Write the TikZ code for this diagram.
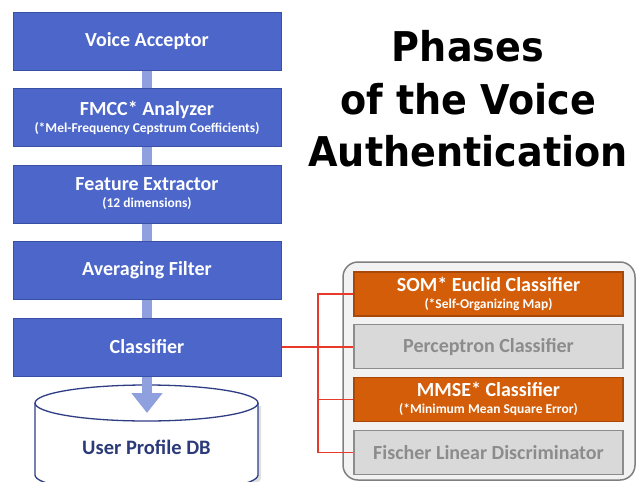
\documentclass[tikz,border=0pt]{standalone}
\usepackage{fontspec}
\setmainfont{Carlito}
\newfontfamily\titlefont[FakeStretch=0.93]{DejaVu Sans}
\usetikzlibrary{positioning,arrows.meta}

\definecolor{phasefill}{HTML}{4D66C9}
\definecolor{phaseedge}{HTML}{3A4FA6}
\definecolor{linkblue}{HTML}{8FA0DE}
\definecolor{somfill}{HTML}{D35D08}
\definecolor{somedge}{HTML}{A8490A}
\definecolor{offfill}{HTML}{D9D9D9}
\definecolor{offedge}{HTML}{8C8C8C}
\definecolor{offtext}{HTML}{8C8C8C}
\definecolor{panelfill}{HTML}{F2F2F2}
\definecolor{paneledge}{HTML}{7F7F7F}
\definecolor{tapred}{HTML}{E83A2A}
\definecolor{dbedge}{HTML}{2F3D85}
\definecolor{dbtext}{HTML}{2B3A78}

\newcommand\subline[1]{{\fontsize{13.5}{17}\selectfont #1}}

\begin{document}
\begin{tikzpicture}[x=1pt,y=-1pt,node distance=17.5pt,
  phase/.style={rectangle,draw=phaseedge,fill=phasefill,line width=1pt,
    minimum width=268pt,minimum height=58pt,inner sep=0pt,text=white,
    align=center,font=\bfseries\fontsize{20}{17}\selectfont},
  method/.style={rectangle,line width=1.2pt,minimum width=269pt,
    minimum height=44pt,inner sep=0pt,align=center,
    font=\bfseries\fontsize{20}{17}\selectfont},
  methodon/.style={method,fill=somfill,draw=somedge,text=white},
  methodoff/.style={method,fill=offfill,draw=offedge,text=offtext},
  link/.style={draw=linkblue,line width=10pt},
  feed/.style={draw=linkblue,fill=linkblue,line width=10pt,
    -{Triangle[length=20pt,width=30pt]}},
  tap/.style={draw=tapred,line width=1.2pt},
  dbwall/.style={draw=dbedge,fill=white,line width=1.3pt},
  title/.style={inner sep=0pt,align=center,
    font=\titlefont\bfseries\fontsize{41}{52.5}\selectfont}]
\useasboundingbox (0,0) rectangle (640,482);

% processing chain
\node[phase] at (147,41) (va) {Voice Acceptor};
\node[phase,below=of va] (fmcc) {FMCC* Analyzer\\\subline{(*Mel-Frequency Cepstrum Coefficients)}};
\node[phase,below=of fmcc] (fe) {Feature Extractor\\\subline{(12 dimensions)}};
\node[phase,below=of fe] (af) {Averaging Filter};
\node[phase,below=of af] (cls) {Classifier};

\draw[link] (va) -- (fmcc);
\draw[link] (fmcc) -- (fe);
\draw[link] (fe) -- (af);
\draw[link] (af) -- (cls);

% user profile database
\fill[black!25,opacity=.5] (38,406) -- (38,478) arc[start angle=180,end angle=0,x radius=111.5,y radius=18] -- (261,406) -- cycle;
\filldraw[dbwall] (35,403) -- (35,475) arc[start angle=180,end angle=0,x radius=111.5,y radius=18] -- (258,403);
\filldraw[dbwall] (146.5,403) ellipse [x radius=111.5,y radius=18];
\node[text=dbtext,font=\bfseries\fontsize{20.5}{17}\selectfont] at (146.5,447) (db) {User Profile DB};
\coordinate (dbtop) at (147,413);
\draw[feed] (cls.south) -- (dbtop);

% title
\node[title] at (468,99) (head) {Phases\\of the Voice\\Authentication};

% classifier methods
\draw[fill=panelfill,draw=paneledge,line width=1.5pt,rounded corners=15pt] (343,262) rectangle (635,480);
\node[methodon] at (488.5,294) (som) {SOM* Euclid Classifier\\\subline{(*Self-Organizing Map)}};
\node[methodoff,below=7.5pt of som] (per) {Perceptron Classifier};
\node[methodon,below=7.5pt of per] (mmse) {MMSE* Classifier\\\subline{(*Minimum Mean Square Error)}};
\node[methodoff,below=7.5pt of mmse] (fld) {Fischer Linear Discriminator};

\coordinate (bus) at (318,0);
\draw[tap] (som.west) -- (som.west -| bus) -- (fld.west -| bus) -- (fld.west);
\draw[tap] (cls.east) -- (cls.east -| per.west);
\draw[tap] (mmse.west) -- (mmse.west -| bus);
\end{tikzpicture}
\end{document}
